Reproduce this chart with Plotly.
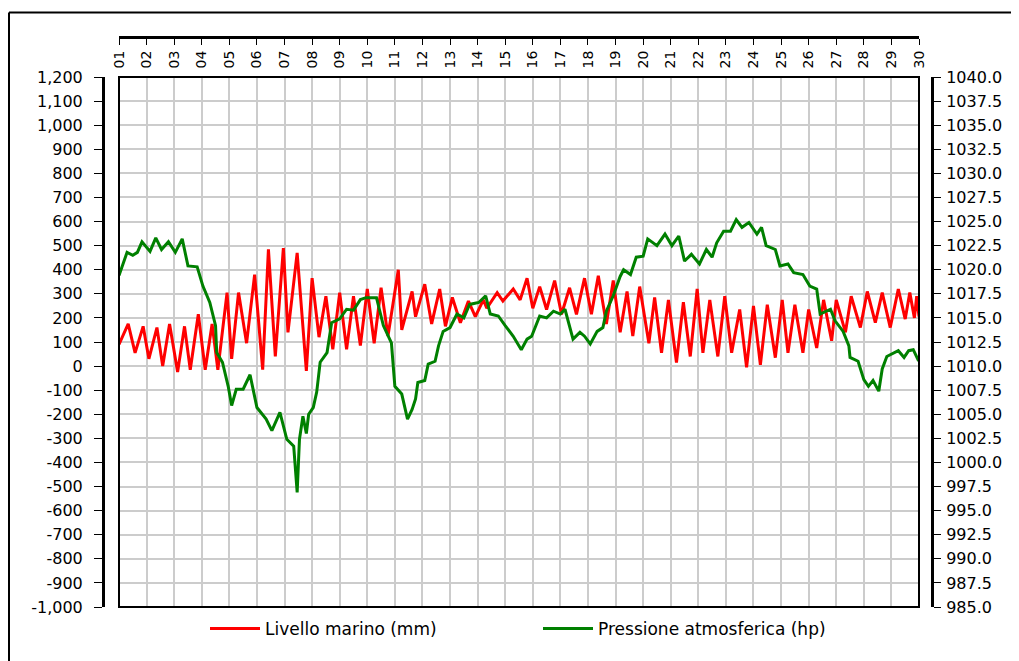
import plotly.graph_objects as go

# ---------------- data ----------------
# hours since the start of day 01, and sea level in mm (tidal turning points)
red_hours = [0, 8, 14, 21, 26, 33, 38, 44, 51, 57, 62, 69, 75, 81, 86, 94, 98, 104, 111, 118,
             125, 130, 136, 143, 147, 155, 163, 168, 174, 180, 186, 192, 198, 204, 210, 216,
             222, 228, 234, 243, 246, 255, 258, 266, 272, 279, 284, 290, 297, 304, 310, 317,
             320, 329, 334, 343, 349, 355, 360, 366, 372, 379, 385, 392, 398, 405, 411, 417,
             424, 430, 436, 442, 447, 453, 461, 466, 472, 478, 485, 491, 497, 503, 508, 514,
             521, 527, 533, 540, 546, 552, 558, 564, 571, 577, 582, 588, 595, 600, 607, 613,
             620, 624, 632, 637, 645, 651, 658, 664, 671, 678, 684, 688, 692, 694, 696]
red_mm = [90, 175, 55, 165, 30, 160, 0, 175, -25, 165, -15, 215, -15, 175, -15, 305, 30, 305, 95, 380,
          -15, 485, 40, 490, 140, 470, -20, 365, 120, 290, 70, 305, 70, 290, 85, 320,
          95, 325, 125, 400, 150, 310, 205, 340, 175, 320, 165, 285, 180, 270, 205, 275,
          240, 305, 270, 320, 275, 365, 240, 330, 235, 355, 215, 325, 215, 365, 215, 375,
          175, 355, 140, 310, 125, 330, 95, 285, 55, 275, 15, 265, 40, 320, 55, 275,
          40, 290, 55, 235, -5, 250, 5, 255, 35, 275, 55, 255, 55, 235, 75, 275,
          105, 275, 140, 290, 160, 310, 180, 305, 160, 320, 195, 305, 200, 290, 205]

# hours since the start of day 01, and atmospheric pressure in hPa
green_hours = [0, 7, 12, 16, 20, 27, 32, 37, 43, 49, 55, 60, 68, 73, 79, 84, 85, 90, 95, 98,
               102, 108, 114, 120, 128, 133, 140, 146, 152, 155, 157, 160, 163, 165, 169, 172,
               175, 181, 185, 192, 198, 204, 210, 215, 224, 230, 237, 240, 246, 251, 255, 258,
               260, 266, 269, 275, 278, 282, 288, 294, 300, 305, 313, 319, 323, 330, 336, 343,
               350, 355, 359, 366, 372, 378, 384, 388, 395, 401, 405, 410, 416, 421, 424, 430,
               436, 439, 445, 450, 456, 460, 468, 475, 481, 487, 492, 498, 505, 511, 516, 520,
               526, 532, 537, 542, 548, 555, 559, 563, 571, 575, 582, 587, 595, 601, 607, 610,
               619, 623, 630, 635, 636, 643, 648, 652, 656, 661, 664, 668, 678, 683, 687, 691,
               695, 696]
green_hpa = [1019.4, 1021.8, 1021.5, 1021.8, 1022.9, 1021.9, 1023.3, 1022.1, 1022.9, 1021.8,
             1023.2, 1020.4, 1020.3, 1018.3, 1016.6, 1014.2, 1011.4, 1010.4, 1007.9, 1005.9,
             1007.6, 1007.6, 1009.1, 1005.7, 1004.5, 1003.3, 1005.2, 1002.4, 1001.7, 996.9,
             1002.4, 1004.8, 1003.0, 1005.0, 1005.7, 1007.3, 1010.4, 1011.4, 1014.5, 1014.9,
             1015.9, 1015.8, 1016.9, 1017.1, 1017.1, 1014.2, 1012.4, 1007.9, 1007.1, 1004.5,
             1005.5, 1006.6, 1008.3, 1008.5, 1010.2, 1010.5, 1012.1, 1013.6, 1014.0, 1015.4,
             1015.0, 1016.4, 1016.6, 1017.3, 1015.4, 1015.2, 1014.2, 1013.1, 1011.7, 1012.8,
             1013.1, 1015.2, 1015.0, 1015.7, 1015.4, 1015.9, 1012.8, 1013.5, 1013.1, 1012.3,
             1013.6, 1014.0, 1015.7, 1017.3, 1019.3, 1020.0, 1019.5, 1021.3, 1021.4, 1023.2,
             1022.5, 1023.7, 1022.5, 1023.5, 1020.9, 1021.6, 1020.6, 1022.1, 1021.3, 1022.8,
             1024.0, 1024.0, 1025.2, 1024.4, 1024.9, 1023.7, 1024.4, 1022.5, 1022.1, 1020.4,
             1020.6, 1019.7, 1019.5, 1018.3, 1018.0, 1015.4, 1015.9, 1014.7, 1013.6, 1012.1,
             1010.9, 1010.5, 1008.6, 1007.9, 1008.5, 1007.4, 1009.7, 1011.0, 1011.6, 1010.9,
             1011.6, 1011.7, 1010.7, 1010.8]

day_values = list(range(1, 31))
day_labels = [f"{d:02d}" for d in day_values]
mm_ticks = list(range(-1000, 1201, 100))
mm_labels = [f"{v:,}" for v in mm_ticks]
hpa_ticks = [985 + 2.5 * i for i in range(23)]
hpa_labels = [f"{v:.1f}" for v in hpa_ticks]

series_names = ["Livello marino (mm)", "Pressione atmosferica (hp)"]

# ---------------- figure ----------------
OFF = 8  # page body margin: the figure starts 8 px in from the window edge
W, H = 1019 - OFF, 661 - OFF
ML, MT = 103 - OFF, 37 - OFF
MR = W - (932 - OFF)
MB = H - (607 - OFF)
PW, PH = W - ML - MR, H - MT - MB


def px_x(px):
    """window pixel x -> paper fraction"""
    return (px - OFF - ML) / PW


def px_y(py):
    """window pixel y -> paper fraction"""
    return (H - MB - (py - OFF)) / PH


FONT = "DejaVu Sans"

fig = go.Figure()
fig.add_trace(go.Scatter(
    x=[1 + h / 24 for h in red_hours], y=red_mm, mode="lines",
    name=series_names[0], line=dict(color="#ff0000", width=3),
    yaxis="y"))
fig.add_trace(go.Scatter(
    x=[1 + h / 24 for h in green_hours], y=green_hpa, mode="lines",
    name=series_names[1], line=dict(color="#008000", width=3),
    yaxis="y2"))

fig.update_layout(
    width=W, height=H,
    margin=dict(l=ML, r=MR, t=MT, b=MB, pad=0),
    paper_bgcolor="white", plot_bgcolor="white",
    font=dict(family=FONT, color="black", size=16),
    showlegend=True,
    legend=dict(orientation="h", x=px_x(538), xanchor="center",
                y=px_y(629), yanchor="middle",
                font=dict(family=FONT, size=17, color="black"),
                entrywidth=268, entrywidthmode="pixels",
                itemwidth=50, bgcolor="rgba(0,0,0,0)"),
    xaxis=dict(
        range=[1, 30], domain=[px_x(119), px_x(919)],
        anchor="free", position=1, side="bottom",
        tickmode="array", tickvals=day_values, ticktext=day_labels,
        tickangle=-90, ticks="outside", ticklen=6, tickwidth=1, tickcolor="black",
        tickfont=dict(family=FONT, size=14, color="black"),
        showline=True, linecolor="black", linewidth=3,
        showgrid=True, gridcolor="#cccccc", gridwidth=2,
        zeroline=False, fixedrange=True,
    ),
    yaxis=dict(
        range=[-1000, 1200], domain=[0, px_y(77)],
        anchor="free", position=0, side="left",
        tickmode="array", tickvals=mm_ticks, ticktext=mm_labels,
        ticks="outside", ticklen=8, tickwidth=1, tickcolor="black",
        ticklabelstandoff=8,
        tickfont=dict(family=FONT, size=16, color="black"),
        showline=True, linecolor="black", linewidth=3,
        showgrid=True, gridcolor="#cccccc", gridwidth=2,
        zeroline=False, fixedrange=True,
    ),
    yaxis2=dict(
        range=[985, 1040], overlaying="y",
        anchor="free", position=1, side="right",
        tickmode="array", tickvals=hpa_ticks, ticktext=hpa_labels,
        ticks="outside", ticklen=7, tickwidth=1, tickcolor="black",
        ticklabelstandoff=2,
        tickfont=dict(family=FONT, size=16, color="black"),
        showline=True, linecolor="black", linewidth=3,
        showgrid=False, zeroline=False, fixedrange=True,
    ),
    shapes=[
        # plot-area border
        dict(type="rect", xref="x domain", yref="y domain", x0=0, x1=1, y0=0, y1=1,
             line=dict(color="black", width=2), fillcolor="rgba(0,0,0,0)", layer="above"),
        # outer frame of the picture
        dict(type="line", xref="paper", yref="paper",
             x0=px_x(9), x1=px_x(1030), y0=px_y(12.5), y1=px_y(12.5),
             line=dict(color="black", width=2)),
        dict(type="line", xref="paper", yref="paper",
             x0=px_x(9), x1=px_x(9), y0=px_y(12.5), y1=px_y(670),
             line=dict(color="black", width=2)),
    ],
)

fig.write_html("out.html", config={"displayModeBar": False})
